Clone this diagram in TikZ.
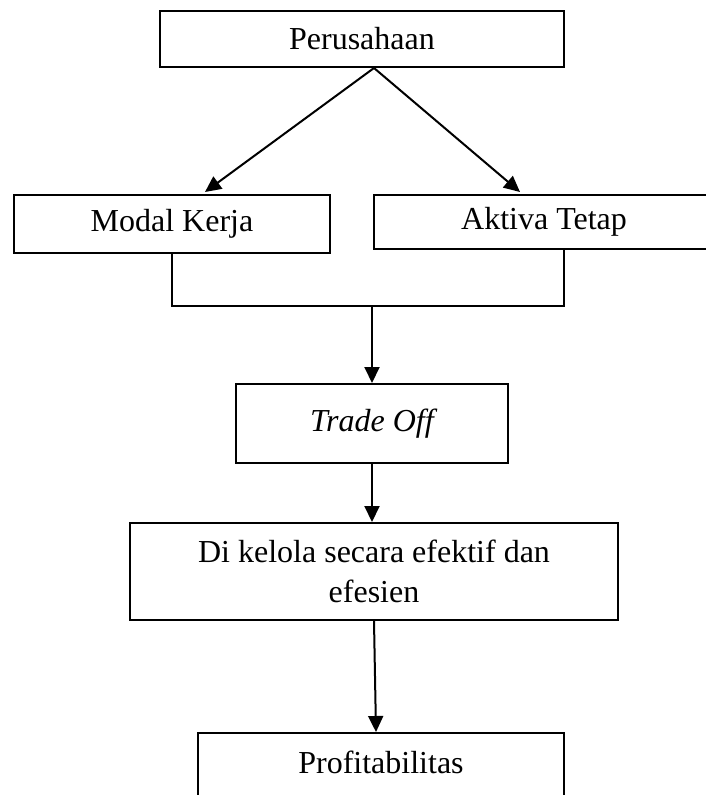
\documentclass[tikz,border=0pt]{standalone}
\usepackage{fontspec}
\setmainfont{Liberation Serif}
\usetikzlibrary{arrows.meta,calc}
\tikzset{
  box/.style={draw, line width=2pt, rectangle, inner sep=0pt, align=center,
    font=\fontsize{32}{40}\selectfont},
  arr/.style={line width=2pt, -{Triangle[length=16pt,width=15pt]}},
  ln/.style={line width=2pt}
}
\begin{document}
\begin{tikzpicture}[x=1pt,y=-1pt]
\useasboundingbox (0,0) rectangle (706,795);
\begin{scope}
\clip (0,0) rectangle (706,795);
\node[box, minimum width=404pt, minimum height=56pt] (per) at (362,39) {Perusahaan};
\node[box, minimum width=316pt, minimum height=58pt] (mk) at (172,224) {Modal Kerja};
\node[box, minimum width=340pt, minimum height=54pt] (at) at (544,222) {Aktiva Tetap};
\node[box, minimum width=272pt, minimum height=79pt] (to) at (372,423.5) {\itshape Trade Off};
\node[box, minimum width=488pt, minimum height=97pt] (dk) at (374,571.5) {Di kelola secara efektif dan\\efesien};
\node[box, minimum width=366pt, anchor=north, text height=22pt, text depth=10pt, inner ysep=18pt] (pr) at (381,732) {Profitabilitas};

\draw[arr] ([xshift=12pt]per.south) -- ([xshift=33pt,yshift=2pt]mk.north);
\draw[arr] ([xshift=12pt]per.south) -- ([xshift=-24pt,yshift=2pt]at.north);

\coordinate (bus) at (372,306);
\draw[ln] (mk.south) |- (bus) -| ([xshift=20pt]at.south);
\draw[arr] (bus) -- (to.north);
\draw[arr] (to.south) -- (to.south |- dk.north);
\draw[arr] (dk.south) -- ([xshift=-5pt]pr.north);
\end{scope}
\end{tikzpicture}
\end{document}
